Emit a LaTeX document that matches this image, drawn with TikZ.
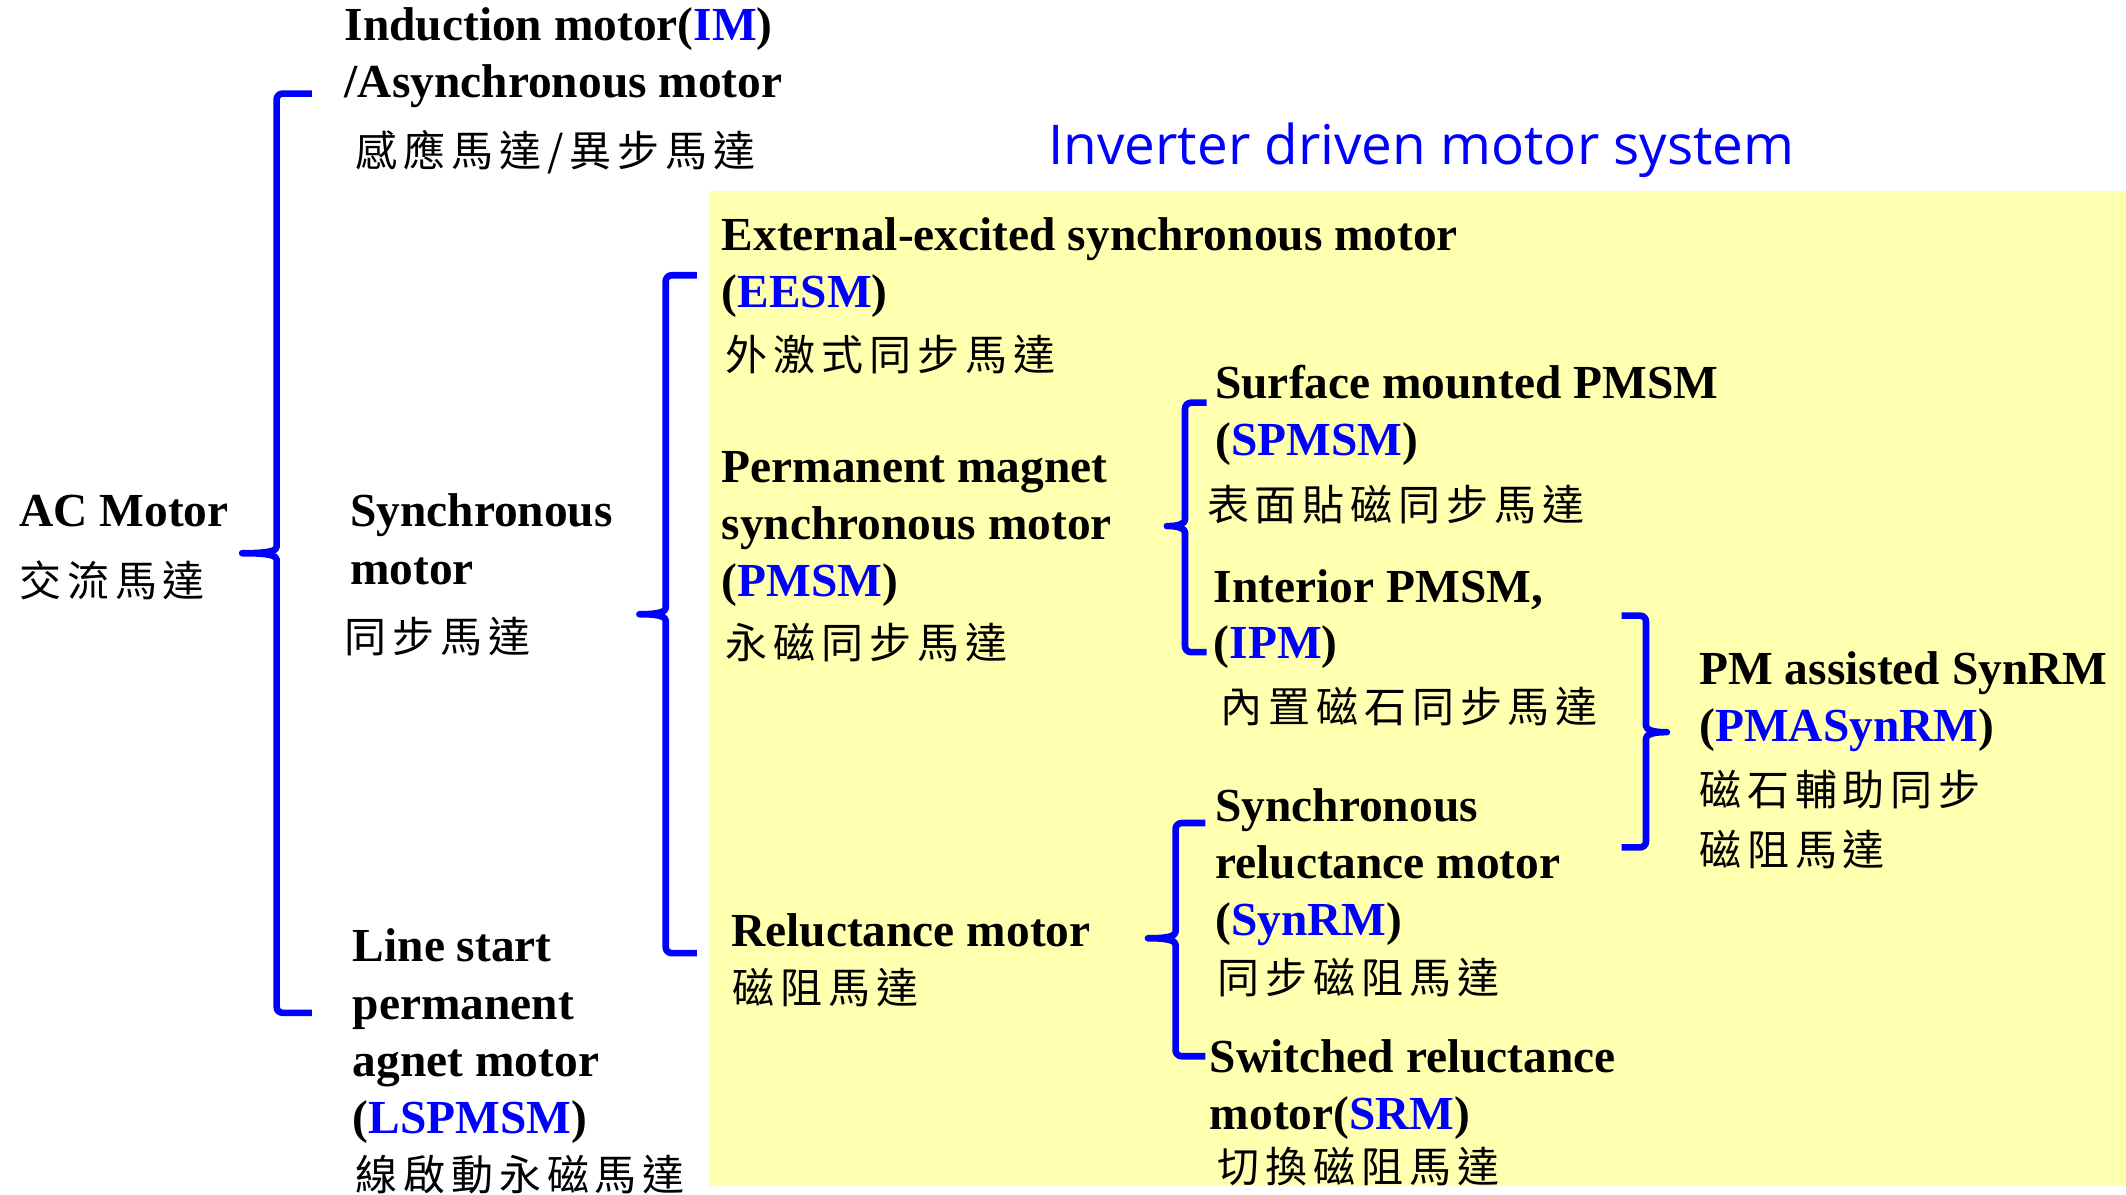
\documentclass[tikz,border=0pt]{standalone}
\usepackage{fontspec}
\setmainfont{Liberation Serif}
\newfontfamily\zhfam[LetterSpace=14]{Noto Sans CJK TC}
\newfontfamily\ttlfam{Open Sans}
\newcommand\enfont{\fontsize{23.7pt}{28.5pt}\selectfont\bfseries}
\newcommand\zhfont{\zhfam\fontsize{21pt}{24pt}\selectfont}
\newcommand\ttlfont{\ttlfam\fontsize{27.4pt}{33pt}\selectfont}
\newcommand\blueab[1]{\textcolor{blue}{#1}}
\definecolor{yellowbg}{HTML}{FFFFB0}
\tikzset{
  en/.style={font=\enfont, inner sep=0pt, anchor=base west},
  zh/.style={font=\zhfont, inner sep=0pt, anchor=base west},
  ttl/.style={font=\ttlfont, text=blue, inner sep=0pt, anchor=base west},
  bluebrace/.style={draw=blue, line width=3.3pt, rounded corners=3pt, line join=round}
}
% left-facing brace: #1 vertical x, #2 top y, #3 bottom y, #4 tip y, #5 stub end x, #6 tip end x
\newcommand\BraceLeft[6]{%
  \draw[bluebrace] (#5,#2) -- (#1,#2) -- (#1,{#4-9})
    .. controls (#1,{#4-2}) and ({#1-5},#4) .. (#6,#4)
    .. controls ({#1-5},#4) and (#1,{#4+2}) .. (#1,{#4+9})
    -- (#1,#3) -- (#5,#3);}
% right-facing brace
\newcommand\BraceRight[6]{%
  \draw[bluebrace] (#5,#2) -- (#1,#2) -- (#1,{#4-9})
    .. controls (#1,{#4-2}) and ({#1+5},#4) .. (#6,#4)
    .. controls ({#1+5},#4) and (#1,{#4+2}) .. (#1,{#4+9})
    -- (#1,#3) -- (#5,#3);}
\begin{document}
\begin{tikzpicture}[x=0.678pt, y=-0.678pt]
\useasboundingbox (0,0) rectangle (1568,881);
\fill[yellowbg] (523,141) rectangle (1568,875);

\node[ttl] (title) at (773,121) {Inverter driven motor system};

% AC motor
\node[en] (ac1) at (14,388) {AC Motor};
\node[zh] (ac2) at (14,440) {交流馬達};

% Induction motor
\node[en] (im1) at (254,30) {Induction motor(\blueab{IM})};
\node[en] (im2) at (254,72) {/Asynchronous motor};
\node[zh] (im3) at (262,123) {感應馬達/異步馬達};

% Synchronous motor
\node[en] (sm1) at (258,388) {Synchronous};
\node[en] (sm2) at (258,431) {motor};
\node[zh] (sm3) at (254,481) {同步馬達};

% Line start
\node[en] (ls1) at (260,709) {Line start};
\node[en] (ls2) at (260,752) {permanent};
\node[en] (ls3) at (260,794) {agnet motor};
\node[en] (ls4) at (260,836) {(\blueab{LSPMSM})};
\node[zh] (ls5) at (262,878) {線啟動永磁馬達};

% EESM
\node[en] (ee1) at (532,185) {External-excited synchronous motor};
\node[en] (ee2) at (532,227) {(\blueab{EESM})};
\node[zh] (ee3) at (535,273) {外激式同步馬達};

% PMSM
\node[en] (pm1) at (532,356) {Permanent magnet};
\node[en] (pm2) at (532,398) {synchronous motor};
\node[en] (pm3) at (532,440) {(\blueab{PMSM})};
\node[zh] (pm4) at (535,486) {永磁同步馬達};

% Reluctance motor
\node[en] (rm1) at (539,698) {Reluctance motor};
\node[zh] (rm2) at (540,740) {磁阻馬達};

% SPMSM
\node[en] (sp1) at (896,294) {Surface mounted PMSM};
\node[en] (sp2) at (896,336) {(\blueab{SPMSM})};
\node[zh] (sp3) at (890,384) {表面貼磁同步馬達};

% IPM
\node[en] (ip1) at (895,444) {Interior PMSM,};
\node[en] (ip2) at (895,486) {(\blueab{IPM})};
\node[zh] (ip3) at (900,533) {內置磁石同步馬達};

% PMASynRM
\node[en] (pa1) at (1253,505) {PM assisted SynRM};
\node[en] (pa2) at (1253,547) {(\blueab{PMASynRM})};
\node[zh] (pa3) at (1253,594) {磁石輔助同步};
\node[zh] (pa4) at (1253,638) {磁阻馬達};

% SynRM
\node[en] (sr1) at (896,606) {Synchronous};
\node[en] (sr2) at (896,648) {reluctance motor};
\node[en] (sr3) at (896,690) {(\blueab{SynRM})};
\node[zh] (sr4) at (898,733) {同步磁阻馬達};

% SRM
\node[en] (sw1) at (892,791) {Switched reluctance};
\node[en] (sw2) at (892,833) {motor(\blueab{SRM})};
\node[zh] (sw3) at (898,872) {切換磁阻馬達};

% braces
\BraceLeft{204}{69}{747}{408}{230}{176}
\BraceLeft{491}{203}{703}{453}{514}{469}
\BraceLeft{874}{297}{481}{388}{890}{858}
\BraceLeft{867}{607}{779}{692}{889}{844}
\BraceRight{1214}{454}{625}{540}{1196}{1232}
\end{tikzpicture}
\end{document}
